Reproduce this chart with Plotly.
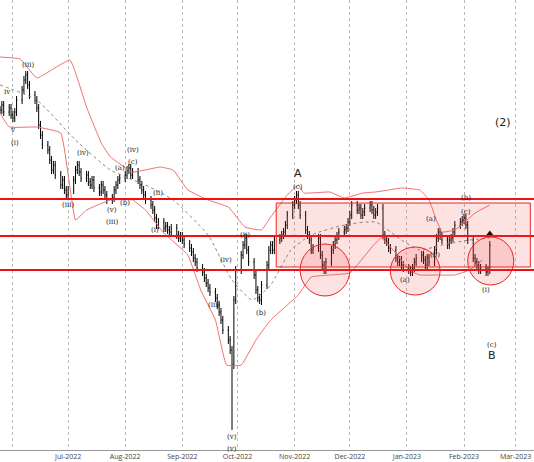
"""Elliott-wave style daily bar chart with Bollinger bands and support zone."""

import pandas as pd
import plotly.graph_objects as go

# daily closes, in chart units (0 = top of panel, larger = lower price)
closes_by_month = {
    ("2022-05-25", "2022-05-31"): [110, 105, 112, 108, 115],
    ("2022-06-01", "2022-06-30"): [118, 112, 100, 90, 80, 75, 85, 95, 100, 108, 125,
                                   135, 145, 150, 160, 170, 165, 175, 185, 180, 190, 195],
    ("2022-07-01", "2022-07-31"): [190, 180, 170, 165, 172, 178, 175, 182, 185, 180, 188,
                                   192, 185, 190, 195, 200, 198, 190, 185, 180, 178],
    ("2022-08-01", "2022-08-31"): [175, 170, 168, 175, 172, 180, 185, 190, 195, 200, 205, 210,
                                   218, 225, 222, 228, 226, 230, 232, 228, 235, 238, 236],
    ("2022-09-01", "2022-09-30"): [240, 244, 248, 252, 258, 262, 268, 272, 278, 283, 288,
                                   292, 298, 305, 312, 320, 330, 340, 350, 365, 300, 270],
    ("2022-10-01", "2022-10-31"): [255, 245, 238, 250, 262, 275, 290, 298, 300, 285, 265,
                                   250, 245, 250, 240, 238, 235, 232, 225, 215, 205],
    ("2022-11-01", "2022-11-30"): [200, 195, 205, 215, 230, 235, 240, 250, 248, 238, 255,
                                   265, 270, 262, 250, 245, 240, 236, 232, 230, 228, 222],
    ("2022-12-01", "2022-12-31"): [215, 205, 210, 208, 215, 212, 208, 205, 210, 215, 212,
                                   208, 235, 240, 242, 248, 250, 258, 262, 260, 265, 268],
    ("2023-01-01", "2023-01-31"): [270, 272, 268, 262, 258, 255, 260, 265, 258, 262, 250,
                                   238, 232, 236, 240, 245, 240, 238, 232, 225, 222, 220],
    ("2023-02-01", "2023-02-15"): [218, 225, 240, 258, 262, 265, 270, 268, 272, 270, 245],
}
spike_lows = {"2022-09-28": 430, "2022-10-14": 305}

upper_dates = ["2022-05-25", "2022-06-05", "2022-06-14", "2022-07-02", "2022-07-11", "2022-07-19",
               "2022-07-24", "2022-08-05", "2022-08-20", "2022-08-27", "2022-09-04", "2022-09-15",
               "2022-09-26", "2022-10-05", "2022-10-14", "2022-10-19", "2022-10-28", "2022-11-03",
               "2022-11-06", "2022-11-20", "2022-11-28", "2022-12-08", "2022-12-15", "2022-12-22",
               "2022-12-29", "2023-01-08", "2023-01-13", "2023-01-17", "2023-01-20", "2023-01-27",
               "2023-02-07", "2023-02-15"]
upper_vals = [57, 59, 78, 60, 107, 143, 157, 172, 167, 170, 190, 200, 207, 227, 230, 217, 195,
              185, 193, 192, 198, 193, 192, 190, 188, 190, 200, 220, 232, 230, 213, 205]

lower_dates = ["2022-05-25", "2022-05-30", "2022-06-14", "2022-06-27", "2022-07-05", "2022-07-11",
               "2022-07-24", "2022-08-05", "2022-08-12", "2022-08-22", "2022-09-04", "2022-09-11",
               "2022-09-19", "2022-09-25", "2022-10-03", "2022-10-11", "2022-10-19", "2022-10-28",
               "2022-11-03", "2022-11-10", "2022-11-20", "2022-12-01", "2022-12-13", "2022-12-18",
               "2022-12-26", "2023-01-02", "2023-01-08", "2023-01-17", "2023-01-27", "2023-02-04",
               "2023-02-11"]
lower_vals = [113, 127, 127, 133, 220, 210, 200, 200, 210, 233, 255, 290, 320, 365, 365, 340,
              320, 305, 295, 277, 275, 273, 247, 238, 253, 270, 275, 275, 275, 270, 260]

mid_dates = ["2022-05-25", "2022-06-14", "2022-07-05", "2022-07-24", "2022-08-12", "2022-08-27",
             "2022-09-15", "2022-09-28", "2022-10-09", "2022-10-19", "2022-10-30", "2022-11-10",
             "2022-11-28", "2022-12-15", "2022-12-29", "2023-01-08", "2023-01-20", "2023-02-04",
             "2023-02-15"]
mid_vals = [85, 100, 140, 170, 185, 200, 235, 280, 300, 285, 250, 235, 225, 222, 240, 250, 245,
            240, 238]

levels = [199, 236, 270]
zone = ("2022-10-22", "2023-03-09", 203, 267)
circles = [("2022-11-04", "2022-12-01", 244, 296),
           ("2022-12-23", "2023-01-19", 247, 295),
           ("2023-02-03", "2023-02-28", 237, 285)]

wave_labels = [
    ("2022-05-29", 92, "iv"), ("2022-06-01", 130, "v"), ("2022-06-02", 143, "(i)"),
    ("2022-06-09", 65, "(iii)"), ("2022-07-01", 205, "(iii)"), ("2022-07-09", 153, "(iv)"),
    ("2022-07-25", 210, "(v)"), ("2022-07-25", 222, "(iii)"), ("2022-07-29", 168, "(a)"),
    ("2022-08-01", 203, "(b)"), ("2022-08-05", 162, "(c)"), ("2022-08-05", 150, "(iv)"),
    ("2022-08-17", 230, "(i)"), ("2022-08-19", 193, "(ii)"), ("2022-09-18", 305, "(iii)"),
    ("2022-09-25", 260, "(iv)"), ("2022-10-05", 235, "(ii)"), ("2022-10-14", 313, "(b)"),
    ("2022-09-28", 437, "(v)"), ("2022-09-28", 449, "(v)"), ("2022-11-03", 187, "(c)"),
    ("2022-12-31", 280, "(a)"), ("2023-01-14", 219, "(a)"), ("2023-01-16", 255, "(b)"),
    ("2023-02-02", 212, "(c)"), ("2023-02-02", 198, "(b)"), ("2023-02-13", 290, "(i)"),
    ("2023-02-16", 345, "(c)"),
]
big_labels = [("2022-11-03", 173, "A"), ("2023-02-16", 355, "B"), ("2023-02-22", 122, "(2)")]

dates, opens, highs, lows, closes = [], [], [], [], []
prev = None
for (start, end), vals in closes_by_month.items():
    for d, c in zip(pd.bdate_range(start, end), vals):
        o = prev if prev is not None else c
        dates.append(d)
        opens.append(o)
        closes.append(c)
        hi_px = min(o, c) - 4
        lo_px = max(o, c) + 4
        key = d.strftime("%Y-%m-%d")
        if key in spike_lows:
            lo_px = spike_lows[key]
        # axis is reversed: numeric max is the visual low
        highs.append(lo_px)
        lows.append(hi_px)
        prev = c

fig = go.Figure()

band_line = {"color": "#f07070", "width": 1, "shape": "spline", "smoothing": 0.3}
fig.add_trace(go.Scatter(x=upper_dates, y=upper_vals, mode="lines", line=band_line))
fig.add_trace(go.Scatter(x=lower_dates, y=lower_vals, mode="lines", line=band_line))
fig.add_trace(go.Scatter(x=mid_dates, y=mid_vals, mode="lines",
                         line={"color": "#888888", "width": 1, "dash": "dot",
                               "shape": "spline", "smoothing": 0.5}))

fig.add_trace(go.Ohlc(x=dates, open=opens, high=highs, low=lows, close=closes,
                      increasing_line_color="black", decreasing_line_color="black",
                      line={"width": 1}, tickwidth=0.4))

fig.add_trace(go.Scatter(x=["2023-02-15"], y=[234], mode="markers",
                         marker={"symbol": "triangle-up", "size": 7, "color": "black"}))

for lv in levels:
    fig.add_hline(y=lv, line={"color": "#ee1111", "width": 2})

x0, x1, y0, y1 = zone
fig.add_shape(type="rect", x0=x0, x1=x1, y0=y0, y1=y1,
              line={"color": "#ee2222", "width": 1}, fillcolor="rgba(240,60,60,0.15)")
for cx0, cx1, cy0, cy1 in circles:
    fig.add_shape(type="circle", x0=cx0, x1=cx1, y0=cy0, y1=cy1,
                  line={"color": "#ee2222", "width": 1}, fillcolor="rgba(240,60,60,0.15)")

for d, y, t in wave_labels:
    fig.add_annotation(x=d, y=y, text=t, showarrow=False,
                       font={"size": 7, "color": "#222", "family": "DejaVu Serif"})
for d, y, t in big_labels:
    fig.add_annotation(x=d, y=y, text=t, showarrow=False,
                       font={"size": 11, "color": "#222", "family": "DejaVu Sans"})

fig.update_layout(
    width=534, height=462,
    margin={"l": 0, "r": 0, "t": 0, "b": 12},
    plot_bgcolor="white", paper_bgcolor="white",
    showlegend=False,
    xaxis={"range": ["2022-05-25", "2023-03-11"], "rangeslider": {"visible": False},
           "tickvals": ["2022-06-01", "2022-07-01", "2022-08-01", "2022-09-01", "2022-10-01",
                        "2022-11-01", "2022-12-01", "2023-01-01", "2023-02-01", "2023-03-01"],
           "tickformat": "%b-%Y", "tickfont": {"size": 7, "color": "#444"},
           "showgrid": True, "gridcolor": "#bbbbbb", "griddash": "dot", "gridwidth": 1,
           "showline": True, "linecolor": "#999", "ticks": ""},
    yaxis={"range": [450, 0], "showticklabels": False, "showgrid": False, "zeroline": False},
)

fig.write_html("out.html", config={"displayModeBar": False},
               post_script="document.body.style.margin='0';")
